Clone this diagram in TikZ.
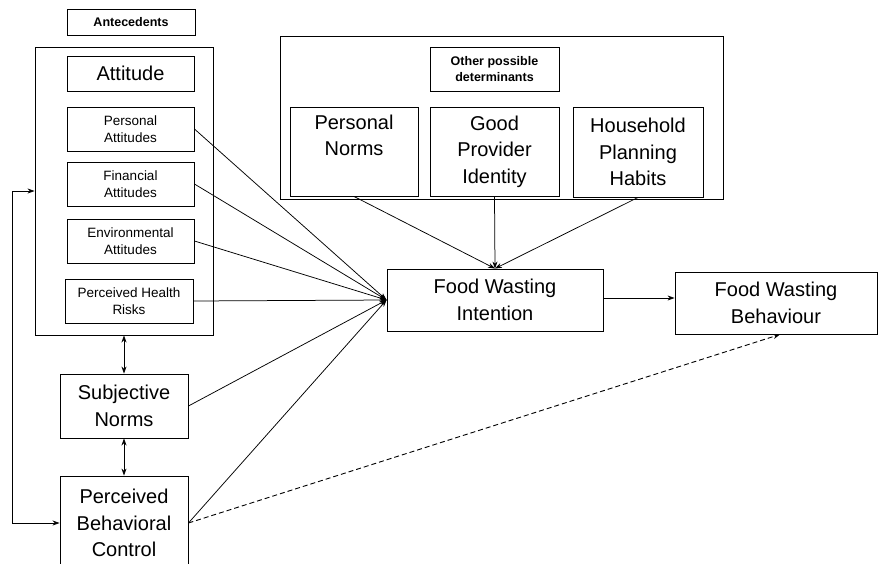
\documentclass[tikz,border=0pt]{standalone}
\usepackage{fontspec}
\setmainfont{Liberation Sans}
\usetikzlibrary{arrows.meta}

\begin{document}
\begin{tikzpicture}[x=1pt,y=-1pt,>={Stealth[length=7pt,width=5pt]},
  box/.style={draw,line width=0.9pt,inner sep=0pt,align=center},
  bigtext/.style={font=\fontsize{20}{26.5}\selectfont},
  smalltext/.style={font=\fontsize{13.5}{16.5}\selectfont},
  headtext/.style={font=\bfseries\fontsize{12.5}{16}\selectfont},
  arr/.style={line width=0.75pt,->},
  dblarr/.style={line width=0.75pt,<->}]

  \useasboundingbox (0,0) rectangle (878,563);
  \clip (0,0) rectangle (878,563);

  % antecedents
  \node[box,headtext,minimum width=128,minimum height=26] (ante) at (131,22) {Antecedents};
  \node[box,minimum width=178,minimum height=288] (attframe) at (124,191) {};
  \node[box,bigtext,minimum width=127,minimum height=35] (att) at (130.5,73.5) {Attitude};
  \node[box,smalltext,minimum width=127,minimum height=44] (persatt) at (130.5,129) {Personal\\Attitudes};
  \node[box,smalltext,minimum width=127,minimum height=44] (finatt) at (130.5,184) {Financial\\Attitudes};
  \node[box,smalltext,minimum width=127,minimum height=44] (envatt) at (130.5,241) {Environmental\\Attitudes};
  \node[box,smalltext,minimum width=128,minimum height=44] (health) at (129,301) {Perceived Health\\Risks};
  \node[box,bigtext,minimum width=128,minimum height=64] (sn) at (124,406) {Subjective\\Norms};
  \node[box,bigtext,minimum width=128,minimum height=94] (pbc) at (124,523) {Perceived\\Behavioral\\Control};

  % other determinants
  \node[box,minimum width=443,minimum height=163] (otherframe) at (501.5,117.5) {};
  \node[box,headtext,minimum width=129,minimum height=44] (other) at (494.5,69) {Other possible\\determinants};
  \node[box,minimum width=128,minimum height=89] (pnorm) at (354,151.5) {};
  \node[bigtext,align=center,anchor=north,inner sep=8pt] (pnormtext) at (pnorm.north) {Personal\\Norms};
  \node[box,bigtext,minimum width=129,minimum height=89] (gpi) at (494.5,151.5) {Good\\Provider\\Identity};
  \node[box,bigtext,minimum width=130,minimum height=90] (habits) at (638,152) {Household\\Planning\\Habits};

  % outcome
  \node[box,bigtext,minimum width=216,minimum height=62] (fwi) at (495,300) {Food Wasting\\Intention};
  \node[box,bigtext,minimum width=202,minimum height=62] (fwb) at (776,303) {Food Wasting\\Behaviour};

  % paths
  \foreach \src in {persatt,finatt,envatt,health,sn,pbc}
    \draw[arr] (\src.east) -- (fwi.west);
  \foreach \src in {pnorm,gpi,habits}
    \draw[arr] (\src.south) -- (fwi.north);
  \draw[arr] ([yshift=2]fwi.east) -- ([yshift=2]fwi.east -| fwb.west);
  \draw[arr,line width=0.9pt,dash pattern=on 5pt off 3pt] (pbc.east) -- ([xshift=4]fwb.south);

  \draw[dblarr] (attframe.south) -- (sn.north);
  \draw[dblarr] (sn.south) -- (pbc.north);
  \draw[dblarr] (attframe.west) -- ++(-22,0) |- (pbc.west);

\end{tikzpicture}
\end{document}
